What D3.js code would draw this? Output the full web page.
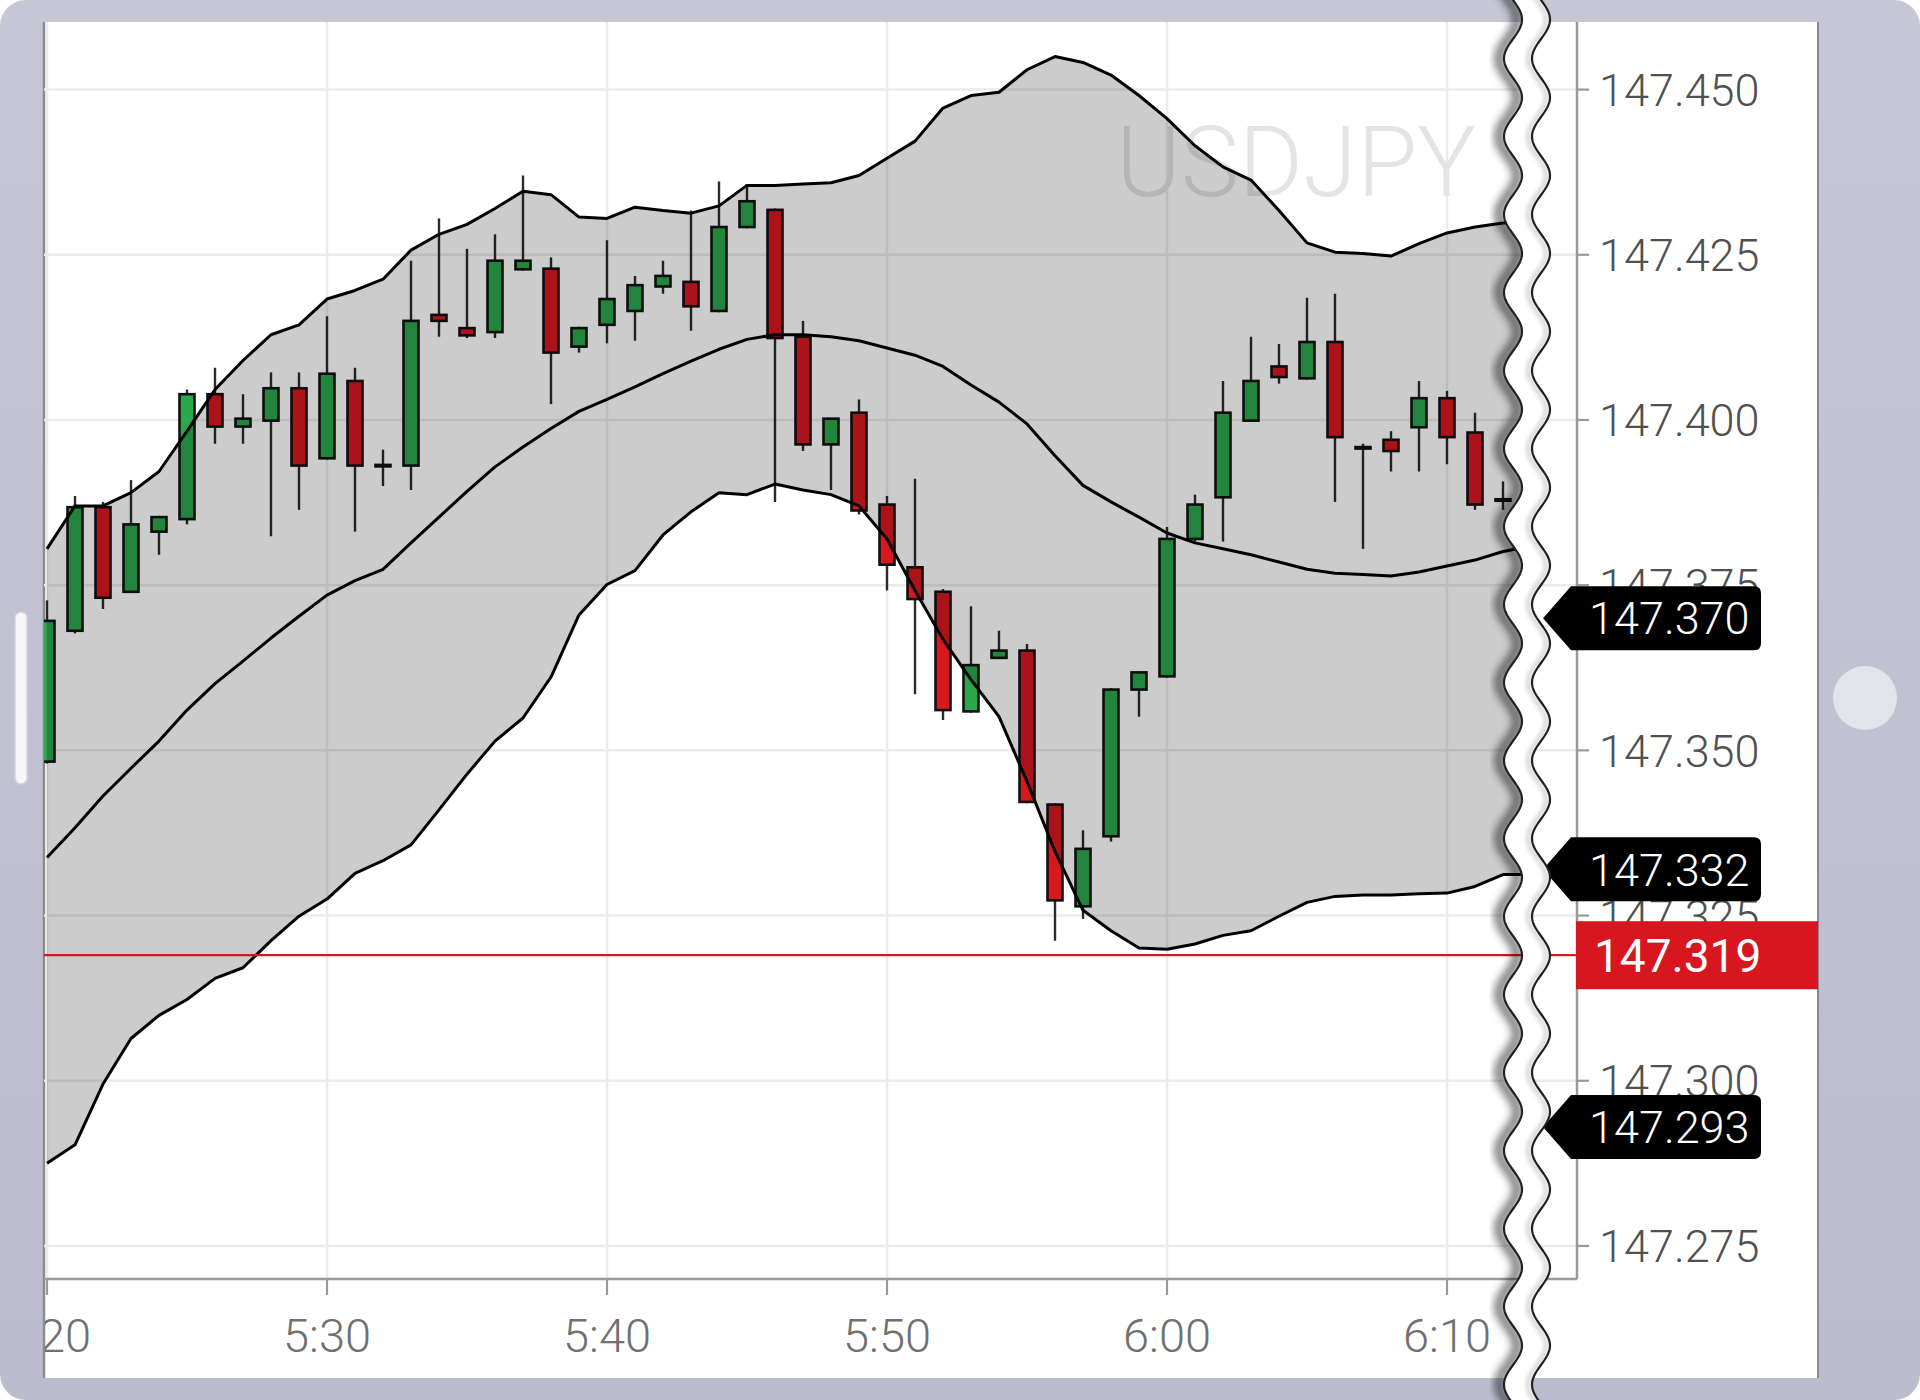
<!DOCTYPE html>
<html><head><meta charset="utf-8">
<script src="https://cdn.jsdelivr.net/npm/d3@7"></script>
<style>html,body{margin:0;padding:0;background:#fff;} svg{display:block;font-family:Roboto,"Noto Sans",sans-serif;}</style>
</head><body><svg id="c" width="1920" height="1400"></svg>
<script>
// ---------------- DATA ----------------
const symbol = "USDJPY";
const candleTimes = ["5:20","5:21","5:22","5:23","5:24","5:25","5:26","5:27","5:28","5:29",
  "5:30","5:31","5:32","5:33","5:34","5:35","5:36","5:37","5:38","5:39",
  "5:40","5:41","5:42","5:43","5:44","5:45","5:46","5:47","5:48","5:49",
  "5:50","5:51","5:52","5:53","5:54","5:55","5:56","5:57","5:58","5:59",
  "6:00","6:01","6:02","6:03","6:04","6:05","6:06","6:07","6:08","6:09",
  "6:10","6:11","6:12"];
const openP = [147.3483,147.3681,147.3868,147.3740,147.3831,147.3850,147.4039,147.3990,147.3999,147.4048,
  147.3942,147.4059,147.3931,147.3931,147.4159,147.4139,147.4133,147.4228,147.4229,147.4111,
  147.4144,147.4165,147.4202,147.4209,147.4165,147.4292,147.4318,147.4126,147.3963,147.4011,
  147.3872,147.3777,147.3740,147.3559,147.3640,147.3651,147.3418,147.3264,147.3370,147.3592,
  147.3612,147.3820,147.3883,147.3999,147.4081,147.4063,147.4118,147.3959,147.3970,147.3989,
  147.4033,147.3981,147.3879];
const highP = [147.3727,147.3885,147.3876,147.3909,147.3855,147.4046,147.4079,147.4039,147.4072,147.4072,
  147.4157,147.4079,147.3955,147.4241,147.4305,147.4259,147.4281,147.4370,147.4246,147.4141,
  147.4272,147.4218,147.4241,147.4317,147.4361,147.4357,147.4320,147.4150,147.4003,147.4031,
  147.3885,147.3911,147.3744,147.3718,147.3681,147.3661,147.3420,147.3379,147.3594,147.3620,
  147.3838,147.3887,147.4059,147.4126,147.4115,147.4185,147.4191,147.3964,147.3983,147.4059,
  147.4044,147.4011,147.3907];
const lowP = [147.3480,147.3677,147.3714,147.3738,147.3796,147.3842,147.3964,147.3964,147.3824,147.3864,
  147.3940,147.3831,147.3900,147.3894,147.4126,147.4124,147.4124,147.4226,147.4024,147.4102,
  147.4116,147.4120,147.4191,147.4135,147.4163,147.4290,147.3876,147.3953,147.3894,147.3857,
  147.3742,147.3585,147.3546,147.3557,147.3639,147.3420,147.3212,147.3245,147.3362,147.3551,
  147.3610,147.3816,147.3816,147.3997,147.4055,147.4061,147.3876,147.3805,147.3922,147.3922,
  147.3933,147.3864,147.3864];
const closeP = [147.3696,147.3868,147.3731,147.3842,147.3853,147.4039,147.3990,147.4002,147.4048,147.3931,
  147.4070,147.3931,147.3932,147.4150,147.4150,147.4128,147.4241,147.4241,147.4102,147.4139,
  147.4183,147.4204,147.4218,147.4172,147.4292,147.4331,147.4124,147.3963,147.4002,147.3863,
  147.3781,147.3729,147.3561,147.3629,147.3651,147.3422,147.3273,147.3351,147.3592,147.3618,
  147.3820,147.3872,147.4011,147.4059,147.4065,147.4118,147.3974,147.3958,147.3953,147.4033,
  147.3974,147.3872,147.3880];

const bandTimes = ["5:20","5:21","5:22","5:23","5:24","5:25","5:26","5:27","5:28","5:29",
  "5:30","5:31","5:32","5:33","5:34","5:35","5:36","5:37","5:38","5:39",
  "5:40","5:41","5:42","5:43","5:44","5:45","5:46","5:47","5:48","5:49",
  "5:50","5:51","5:52","5:53","5:54","5:55","5:56","5:57","5:58","5:59",
  "6:00","6:01","6:02","6:03","6:04","6:05","6:06","6:07","6:08","6:09",
  "6:10","6:11","6:12","6:13"];
const upperBand = [147.3805,147.3870,147.3870,147.3890,147.3922,147.3983,147.4046,147.4090,147.4129,147.4144,
  147.4183,147.4196,147.4213,147.4257,147.4281,147.4296,147.4320,147.4346,147.4341,147.4307,
  147.4305,147.4322,147.4317,147.4313,147.4324,147.4355,147.4355,147.4357,147.4359,147.4370,
  147.4396,147.4422,147.4472,147.4491,147.4496,147.4530,147.4550,147.4541,147.4522,147.4491,
  147.4456,147.4415,147.4383,147.4363,147.4317,147.4268,147.4254,147.4252,147.4248,147.4267,
  147.4283,147.4292,147.4298,147.4300];
const middleBand = [147.3338,147.3383,147.3431,147.3473,147.3514,147.3561,147.3601,147.3635,147.3670,147.3703,
  147.3735,147.3757,147.3774,147.3814,147.3853,147.3892,147.3929,147.3959,147.3987,147.4013,
  147.4031,147.4050,147.4070,147.4089,147.4107,147.4122,147.4129,147.4129,147.4126,147.4120,
  147.4109,147.4098,147.4081,147.4053,147.4027,147.3994,147.3946,147.3901,147.3876,147.3853,
  147.3829,147.3814,147.3805,147.3796,147.3785,147.3774,147.3768,147.3766,147.3764,147.3770,
  147.3779,147.3788,147.3801,147.3809];
const lowerBand = [147.2875,147.2903,147.2995,147.3064,147.3099,147.3123,147.3155,147.3171,147.3212,147.3249,
  147.3275,147.3314,147.3333,147.3357,147.3410,147.3464,147.3514,147.3549,147.3611,147.3705,
  147.3751,147.3772,147.3826,147.3861,147.3890,147.3887,147.3903,147.3894,147.3887,147.3870,
  147.3820,147.3742,147.3668,147.3607,147.3551,147.3453,147.3347,147.3258,147.3227,147.3201,
  147.3199,147.3207,147.3220,147.3227,147.3249,147.3270,147.3279,147.3281,147.3281,147.3283,
  147.3284,147.3294,147.3312,147.3312];

const yTicks = [147.275,147.300,147.325,147.350,147.375,147.400,147.425,147.450];
const xTickLabels = ["5:20","5:30","5:40","5:50","6:00","6:10"];
const tagValues = [147.370,147.332,147.293];
const currentPrice = 147.319;

// ---------------- SETUP ----------------
const parseT = d3.timeParse("%H:%M");
const fmtT = d3.timeFormat("%-H:%M");
const svg = d3.select("#c");
const W = 1920, H = 1400;
const PL = 44, PR = 1577, PT = 22, PB = 1279;

const x = d3.scaleTime().domain([parseT("5:20"), parseT("6:20")]).range([47, 1727]);
const y = d3.scaleLinear().domain([147.27, 147.46]).range([PB, 23.5]);

const defs = svg.append("defs");
defs.append("clipPath").attr("id","plotClip").append("rect")
  .attr("x",PL).attr("y",PT).attr("width",PR-PL).attr("height",PB-PT);
defs.append("clipPath").attr("id","panelClip").append("rect")
  .attr("x",PL+1).attr("y",PT).attr("width",1818-PL).attr("height",1378-PT);
const lg = defs.append("linearGradient").attr("id","lav").attr("x1",0).attr("y1",0).attr("x2",0).attr("y2",1);
lg.append("stop").attr("offset","0%").attr("stop-color","#c6c6d6");
lg.append("stop").attr("offset","100%").attr("stop-color","#bcbcce");
const blur = defs.append("filter").attr("id","blur").attr("x","-50%").attr("y","-5%").attr("width","200%").attr("height","110%");
blur.append("feGaussianBlur").attr("stdDeviation",4);
const blur2 = defs.append("filter").attr("id","blur2").attr("x","-50%").attr("y","-5%").attr("width","200%").attr("height","110%");
blur2.append("feGaussianBlur").attr("stdDeviation",2);

// frame
svg.append("rect").attr("width",W).attr("height",H).attr("fill","#ffffff");
svg.append("rect").attr("width",W).attr("height",H).attr("rx",26).attr("fill","url(#lav)");
svg.append("rect").attr("x",PL).attr("y",PT).attr("width",1818-PL).attr("height",1378-PT).attr("fill","#ffffff");
svg.append("line").attr("x1",1818).attr("x2",1818).attr("y1",PT).attr("y2",1378).attr("stroke","#8a8a94").attr("stroke-width",2);
svg.append("line").attr("x1",PL).attr("x2",PL).attr("y1",PT).attr("y2",1378).attr("stroke","#8c8c8c").attr("stroke-width",2.5);

// left pill & right circle
svg.append("rect").attr("x",15).attr("y",612).attr("width",12).attr("height",172).attr("rx",6)
  .attr("fill","#f7f7f9").attr("stroke","#d4d4dc").attr("stroke-width",1.5);
svg.append("circle").attr("cx",1865).attr("cy",698).attr("r",32).attr("fill","#e3e3eb");

// grid
const grid = svg.append("g");
grid.selectAll("line.h").data(yTicks).join("line")
  .attr("x1",PL).attr("x2",PR).attr("y1",d=>y(d)).attr("y2",d=>y(d))
  .attr("stroke","#ebebeb").attr("stroke-width",2.5);
grid.selectAll("line.v").data(xTickLabels.map(parseT)).join("line")
  .attr("x1",d=>x(d)).attr("x2",d=>x(d)).attr("y1",PT).attr("y2",PB)
  .attr("stroke","#ebebeb").attr("stroke-width",2.5);

// watermark
svg.append("text").attr("x",1476).attr("y",196).attr("text-anchor","end")
  .attr("font-size",98).attr("font-weight",300).attr("fill","#e4e4e4").text(symbol);

// candles
const plot = svg.append("g").attr("clip-path","url(#plotClip)");
const candles = candleTimes.map((t,i)=>({t:parseT(t),o:openP[i],h:highP[i],l:lowP[i],c:closeP[i]}));
const bw = 15;
plot.selectAll("line.wick").data(candles).join("line")
  .attr("x1",d=>x(d.t)).attr("x2",d=>x(d.t)).attr("y1",d=>y(d.h)).attr("y2",d=>y(d.l))
  .attr("stroke","#2a2a2a").attr("stroke-width",2.4);
plot.selectAll("rect.body").data(candles).join("rect")
  .attr("x",d=>x(d.t)-bw/2).attr("width",bw)
  .attr("y",d=>y(Math.max(d.o,d.c)))
  .attr("height",d=>Math.max(1.5, Math.abs(y(d.o)-y(d.c))))
  .attr("fill",d=>d.c>=d.o ? "#2aa84a" : "#d8181f")
  .attr("stroke","#111").attr("stroke-width",2.6);

// bollinger bands
const bands = bandTimes.map((t,i)=>({t:parseT(t),u:upperBand[i],m:middleBand[i],lo:lowerBand[i]}));
plot.append("path").datum(bands)
  .attr("d", d3.area().x(d=>x(d.t)).y0(d=>y(d.lo)).y1(d=>y(d.u)))
  .attr("fill","rgba(0,0,0,0.2)");
["u","m","lo"].forEach(k=>{
  plot.append("path").datum(bands)
    .attr("d", d3.line().x(d=>x(d.t)).y(d=>y(d[k])))
    .attr("fill","none").attr("stroke","#000").attr("stroke-width",3).attr("stroke-linejoin","round");
});

// current price line
svg.append("line").attr("x1",PL).attr("x2",PR).attr("y1",y(currentPrice)).attr("y2",y(currentPrice))
  .attr("stroke","#d8161f").attr("stroke-width",2.2);

// axes
const axisG = svg.append("g");
axisG.append("line").attr("x1",PL).attr("x2",PR).attr("y1",PB).attr("y2",PB).attr("stroke","#9a9a9a").attr("stroke-width",2.5);
axisG.append("line").attr("x1",PR).attr("x2",PR).attr("y1",PT).attr("y2",PB).attr("stroke","#9a9a9a").attr("stroke-width",2.5);
const xt = svg.append("g").attr("clip-path","url(#panelClip)");
xt.selectAll("line").data(xTickLabels.map(parseT)).join("line")
  .attr("x1",d=>x(d)).attr("x2",d=>x(d)).attr("y1",PB).attr("y2",PB+16)
  .attr("stroke","#9a9a9a").attr("stroke-width",2.2);
xt.selectAll("text").data(xTickLabels.map(parseT)).join("text")
  .attr("x",d=>x(d)).attr("y",1352).attr("text-anchor","middle")
  .attr("font-size",47).attr("font-weight",300).attr("fill","#707070")
  .text(d=>fmtT(d));
const yt = svg.append("g");
yt.selectAll("line").data(yTicks).join("line")
  .attr("x1",PR).attr("x2",PR+12).attr("y1",d=>y(d)).attr("y2",d=>y(d))
  .attr("stroke","#9a9a9a").attr("stroke-width",2.2);
yt.selectAll("text").data(yTicks).join("text")
  .attr("x",1599).attr("y",d=>y(d)).attr("dy","0.36em")
  .attr("font-size",45).attr("font-weight",300).attr("fill","#505050")
  .text(d=>d3.format(".3f")(d));

// current price box
const cy = y(currentPrice);
svg.append("rect").attr("x",1576).attr("y",cy-34).attr("width",1818-1576).attr("height",68).attr("fill","#d8161f");
svg.append("text").attr("x",1594).attr("y",cy).attr("dy","0.36em").attr("font-size",46).attr("font-weight",400)
  .attr("fill","#fff").text(d3.format(".3f")(currentPrice));

// black tags
function tagPath(yc){
  const h=32, tip=1543, x0=1571, x1=1761, r=7;
  return `M${tip},${yc} L${x0},${yc-h} L${x1-r},${yc-h} Q${x1},${yc-h} ${x1},${yc-h+r} L${x1},${yc+h-r} Q${x1},${yc+h} ${x1-r},${yc+h} L${x0},${yc+h} Z`;
}
const tags = svg.append("g");
tags.selectAll("path").data(tagValues).join("path").attr("d",d=>tagPath(y(d))).attr("fill","#000");
tags.selectAll("text").data(tagValues).join("text")
  .attr("x",1589).attr("y",d=>y(d)).attr("dy","0.36em")
  .attr("font-size",45).attr("font-weight",300).attr("fill","#fff")
  .text(d=>d3.format(".3f")(d));

// wavy break
const P = 78, A = 9, cxL = 1513, gap = 28;
const ys = d3.range(-20, H+22, 2);
const leftPts = ys.map(v=>[cxL + A*Math.sin(2*Math.PI*v/P), v]);
const rightPts = ys.map(v=>[cxL + gap + A*Math.sin(2*Math.PI*v/P), v]);
const ln = d3.line();
svg.append("path").attr("d", ln(leftPts.map(p=>[p[0]-5,p[1]])))
  .attr("fill","none").attr("stroke","rgba(0,0,0,0.55)").attr("stroke-width",9).attr("filter","url(#blur)");
svg.append("path").attr("d", ln(leftPts.concat(rightPts.slice().reverse())) + "Z").attr("fill","#fff");
svg.append("path").attr("d", ln(rightPts.map(p=>[p[0]-4,p[1]])))
  .attr("fill","none").attr("stroke","rgba(0,0,0,0.18)").attr("stroke-width",4).attr("filter","url(#blur2)");
svg.append("path").attr("d", ln(leftPts)).attr("fill","none").attr("stroke","#222").attr("stroke-width",2.2);
svg.append("path").attr("d", ln(rightPts)).attr("fill","none").attr("stroke","#222").attr("stroke-width",2.2);
</script></body></html>
